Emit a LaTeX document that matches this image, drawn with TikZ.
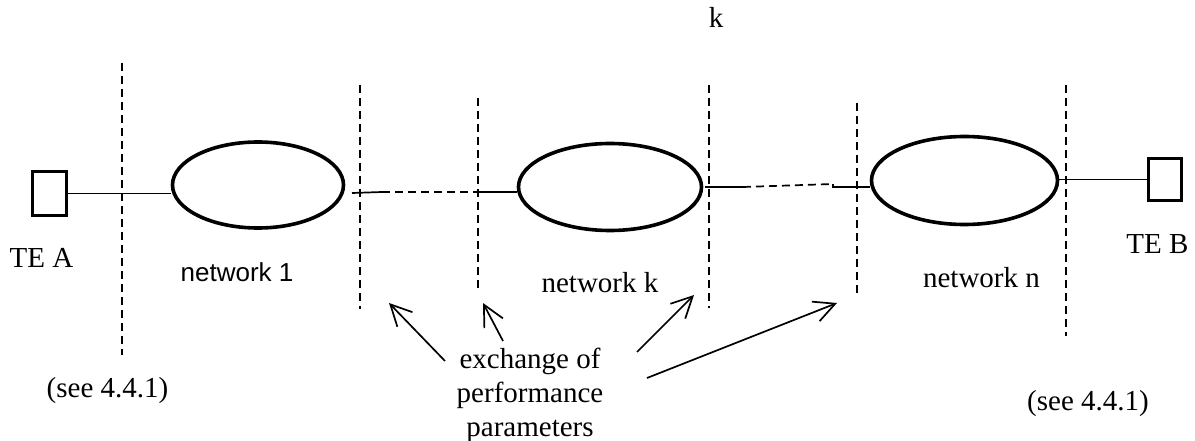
\documentclass[tikz,border=0pt]{standalone}
\usepackage{fontspec}
\setmainfont{Liberation Serif}
\newfontfamily\arialfont{Liberation Sans}
\usetikzlibrary{shapes.geometric,arrows.meta}
\tikzset{
  net/.style={draw, ellipse, line width=3.6pt, inner sep=0pt},
  term/.style={draw, rectangle, line width=3.4pt, inner sep=0pt},
  conn/.style={line width=1.7pt},
  dconn/.style={line width=1.7pt, dash pattern=on 8pt off 5pt},
  border/.style={line width=1.7pt, dash pattern=on 8pt off 5pt},
  lbl/.style={inner sep=0pt, anchor=base, font=\fontsize{29}{34}\selectfont},
  slbl/.style={inner sep=0pt, anchor=base, font=\arialfont\fontsize{26}{30}\selectfont},
  ptr/.style={line width=1.7pt, -{Straight Barb[length=21pt,width=21pt]}}
}
\begin{document}
\begin{tikzpicture}[x=1pt,y=-1pt]
\useasboundingbox (0,0) rectangle (1195,441);
% terminals and networks
\node[term, minimum width=34pt, minimum height=44pt] (teA) at (49.5,193.5) {};
\node[net, minimum width=171pt, minimum height=86pt] (n1) at (258,185) {};
\node[net, minimum width=183pt, minimum height=87pt] (nk) at (610,187) {};
\node[net, minimum width=186pt, minimum height=88pt] (nn) at (964.5,180.5) {};
\node[term, minimum width=33pt, minimum height=42pt] (teB) at (1165,179.5) {};
% boundary lines
\coordinate (v1t) at (122,63);   \coordinate (v1b) at (122,355);
\coordinate (v2t) at (360,85);   \coordinate (v2b) at (360,309);
\coordinate (v3t) at (478,98);   \coordinate (v3b) at (478,292);
\coordinate (v4t) at (709,85);   \coordinate (v4b) at (709,308);
\coordinate (v5t) at (857,103);  \coordinate (v5b) at (857,297);
\coordinate (v6t) at (1066,85);  \coordinate (v6b) at (1066,336);
\foreach \v in {v1,v2,v3,v4,v5,v6} \draw[border] (\v t) -- (\v b);
% connections
\draw[conn] (teA.east) -- (teA.east -| n1.west);
\coordinate (c1a) at (352,193);
\coordinate (c1b) at (382,192);
\coordinate (c1c) at (476,192);
\draw[conn] (c1a) -- (c1b);
\draw[dconn] (c1b) -- (c1c);
\draw[conn] (c1c) -- (c1c -| nk.west);
\coordinate (c2a) at (705,187);
\coordinate (c2b) at (743,187);
\coordinate (c2c) at (833,184);
\coordinate (c2d) at (833,187);
\draw[conn] (c2a) -- (c2b);
\draw[dconn] (c2b) -- (c2c);
\draw[conn] (c2c) -- (c2d) -- (c2d -| nn.west);
\draw[conn] (nn.east |- teB.west) -- (teB.west);
% labels
\node[lbl] (k) at (716,28) {k};
\node[lbl] (tA) at (41.5,267) {TE A};
\node[slbl] (l1) at (237,281) {network 1};
\node[lbl] (lk) at (600,292) {network k};
\node[lbl] (ln) at (981.5,287) {network n};
\node[lbl] (tB) at (1157.5,253) {TE B};
\node[lbl] (seeA) at (107.5,397) {(see 4.4.1)};
\node[lbl] (seeB) at (1088,410) {(see 4.4.1)};
\node[inner sep=0pt, anchor=north, align=center, font=\fontsize{29}{34}\selectfont] (exch) at (530,348) {exchange of\\performance\\parameters};
% pointers
\coordinate (a1s) at (445,361); \coordinate (a1e) at (389,303);
\coordinate (a2s) at (503,341); \coordinate (a2e) at (483,303);
\coordinate (a3s) at (637,352); \coordinate (a3e) at (694,295);
\coordinate (a4s) at (647,378); \coordinate (a4e) at (837,303);
\draw[ptr] (a1s) -- (a1e);
\draw[ptr] (a2s) -- (a2e);
\draw[ptr] (a3s) -- (a3e);
\draw[ptr] (a4s) -- (a4e);
\end{tikzpicture}
\end{document}
